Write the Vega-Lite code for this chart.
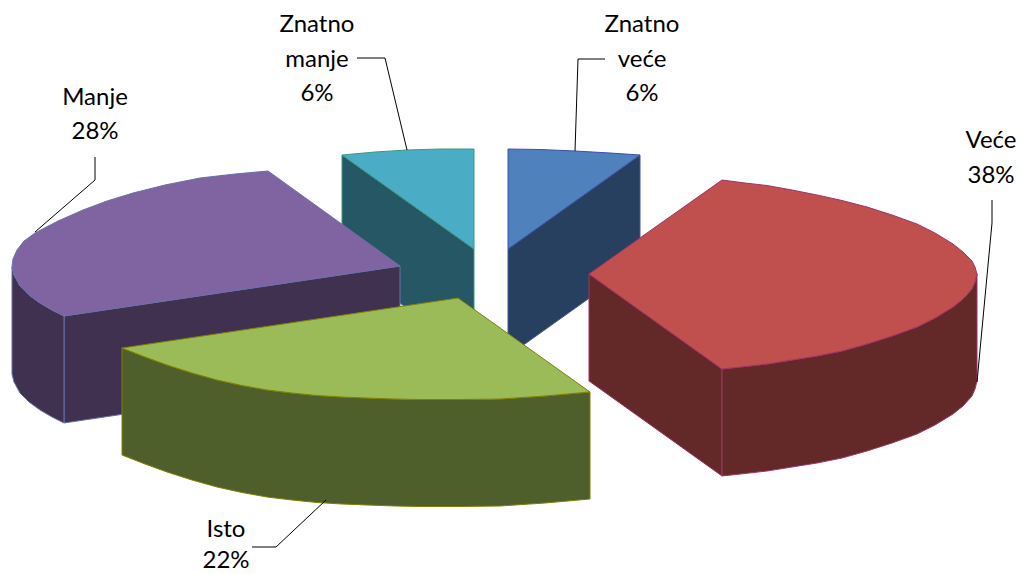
{"$schema":"https://vega.github.io/schema/vega-lite/v6.json","width":1021,"height":574,"padding":0,"autosize":"none","background":"white","config":{"view":{"stroke":null}},"datasets":{"faces":[
{"s":"a1","i":0,"x":508,"y":249},{"s":"a1","i":1,"x":640,"y":155},{"s":"a1","i":2,"x":640,"y":262},{"s":"a1","i":3,"x":508,"y":356},
{"s":"a2","i":0,"x":508,"y":249},{"s":"a2","i":1,"x":508,"y":149},{"s":"a2","i":2,"x":540,"y":149.5},{"s":"a2","i":3,"x":575,"y":151},{"s":"a2","i":4,"x":610,"y":153},{"s":"a2","i":5,"x":640,"y":155},
{"s":"b1","i":0,"x":342,"y":155},{"s":"b1","i":1,"x":474,"y":249},{"s":"b1","i":2,"x":474,"y":356},{"s":"b1","i":3,"x":342,"y":262},
{"s":"b2","i":0,"x":474,"y":249},{"s":"b2","i":1,"x":342,"y":155},{"s":"b2","i":2,"x":375,"y":152},{"s":"b2","i":3,"x":407,"y":150},{"s":"b2","i":4,"x":440,"y":149},{"s":"b2","i":5,"x":474,"y":149},
{"s":"c0","i":0,"x":64,"y":316},{"s":"c0","i":1,"x":400,"y":266},{"s":"c0","i":2,"x":400,"y":373},{"s":"c0","i":3,"x":64,"y":423},
{"s":"c1","i":0,"x":12,"y":267},{"s":"c1","i":1,"x":14,"y":275},{"s":"c1","i":2,"x":20,"y":286},{"s":"c1","i":3,"x":29,"y":295},{"s":"c1","i":4,"x":40,"y":303},{"s":"c1","i":5,"x":52,"y":310},{"s":"c1","i":6,"x":64,"y":316},{"s":"c1","i":9,"x":64,"y":423},{"s":"c1","i":10,"x":52,"y":417},{"s":"c1","i":11,"x":40,"y":410},{"s":"c1","i":12,"x":29,"y":402},{"s":"c1","i":13,"x":20,"y":393},{"s":"c1","i":14,"x":14,"y":382},{"s":"c1","i":15,"x":12,"y":374},
{"s":"c2","i":0,"x":400,"y":266},{"s":"c2","i":1,"x":268,"y":171},{"s":"c2","i":2,"x":235,"y":174},{"s":"c2","i":3,"x":200,"y":178},{"s":"c2","i":4,"x":165,"y":185},{"s":"c2","i":5,"x":133,"y":193},{"s":"c2","i":6,"x":107,"y":201},{"s":"c2","i":7,"x":83,"y":210},{"s":"c2","i":8,"x":58,"y":221},{"s":"c2","i":9,"x":35,"y":233},{"s":"c2","i":10,"x":24,"y":241},{"s":"c2","i":11,"x":17,"y":250},{"s":"c2","i":12,"x":13,"y":259},{"s":"c2","i":13,"x":12,"y":267},{"s":"c2","i":14,"x":14,"y":275},{"s":"c2","i":15,"x":20,"y":286},{"s":"c2","i":16,"x":29,"y":295},{"s":"c2","i":17,"x":40,"y":303},{"s":"c2","i":18,"x":52,"y":310},{"s":"c2","i":19,"x":64,"y":316},
{"s":"d0","i":0,"x":589,"y":274},{"s":"d0","i":1,"x":722,"y":369},{"s":"d0","i":2,"x":722,"y":476},{"s":"d0","i":3,"x":589,"y":381},
{"s":"d1","i":1,"x":722,"y":369},{"s":"d1","i":2,"x":745,"y":366.5},{"s":"d1","i":3,"x":767,"y":364},{"s":"d1","i":4,"x":792,"y":360},{"s":"d1","i":5,"x":817,"y":356},{"s":"d1","i":6,"x":842,"y":351},{"s":"d1","i":7,"x":867,"y":344},{"s":"d1","i":8,"x":892,"y":336},{"s":"d1","i":9,"x":917,"y":327},{"s":"d1","i":10,"x":935,"y":318},{"s":"d1","i":11,"x":953,"y":307},{"s":"d1","i":12,"x":963,"y":299},{"s":"d1","i":13,"x":972,"y":289},{"s":"d1","i":14,"x":975,"y":282},{"s":"d1","i":15,"x":977,"y":274},{"s":"d1","i":16,"x":977,"y":381},{"s":"d1","i":17,"x":975,"y":389},{"s":"d1","i":18,"x":972,"y":396},{"s":"d1","i":19,"x":963,"y":406},{"s":"d1","i":20,"x":953,"y":414},{"s":"d1","i":21,"x":935,"y":425},{"s":"d1","i":22,"x":917,"y":434},{"s":"d1","i":23,"x":892,"y":443},{"s":"d1","i":24,"x":867,"y":451},{"s":"d1","i":25,"x":842,"y":458},{"s":"d1","i":26,"x":817,"y":463},{"s":"d1","i":27,"x":792,"y":467},{"s":"d1","i":28,"x":767,"y":471},{"s":"d1","i":29,"x":745,"y":473.5},{"s":"d1","i":30,"x":722,"y":476},
{"s":"d2","i":0,"x":589,"y":274},{"s":"d2","i":1,"x":722,"y":180},{"s":"d2","i":2,"x":745,"y":183},{"s":"d2","i":3,"x":767,"y":185.5},{"s":"d2","i":4,"x":792,"y":190},{"s":"d2","i":5,"x":817,"y":195},{"s":"d2","i":6,"x":842,"y":200.5},{"s":"d2","i":7,"x":867,"y":207},{"s":"d2","i":8,"x":892,"y":215},{"s":"d2","i":9,"x":917,"y":224},{"s":"d2","i":10,"x":935,"y":233},{"s":"d2","i":11,"x":953,"y":244},{"s":"d2","i":12,"x":963,"y":252},{"s":"d2","i":13,"x":972,"y":261},{"s":"d2","i":14,"x":975,"y":267},{"s":"d2","i":15,"x":977,"y":274},{"s":"d2","i":16,"x":975,"y":282},{"s":"d2","i":17,"x":972,"y":289},{"s":"d2","i":18,"x":963,"y":299},{"s":"d2","i":19,"x":953,"y":307},{"s":"d2","i":20,"x":935,"y":318},{"s":"d2","i":21,"x":917,"y":327},{"s":"d2","i":22,"x":892,"y":336},{"s":"d2","i":23,"x":867,"y":344},{"s":"d2","i":24,"x":842,"y":351},{"s":"d2","i":25,"x":817,"y":356},{"s":"d2","i":26,"x":792,"y":360},{"s":"d2","i":27,"x":767,"y":364},{"s":"d2","i":28,"x":745,"y":366.5},{"s":"d2","i":29,"x":722,"y":369},
{"s":"e1","i":0,"x":122,"y":348},{"s":"e1","i":1,"x":145,"y":357},{"s":"e1","i":2,"x":167,"y":365},{"s":"e1","i":3,"x":192,"y":373},{"s":"e1","i":4,"x":217,"y":380},{"s":"e1","i":5,"x":242,"y":385.5},{"s":"e1","i":6,"x":267,"y":390},{"s":"e1","i":7,"x":292,"y":393},{"s":"e1","i":8,"x":317,"y":395.5},{"s":"e1","i":9,"x":342,"y":397},{"s":"e1","i":10,"x":367,"y":398},{"s":"e1","i":11,"x":395,"y":399},{"s":"e1","i":12,"x":420,"y":399.5},{"s":"e1","i":13,"x":460,"y":399.5},{"s":"e1","i":14,"x":500,"y":399},{"s":"e1","i":15,"x":545,"y":396},{"s":"e1","i":16,"x":590,"y":392},{"s":"e1","i":17,"x":590,"y":499},{"s":"e1","i":18,"x":545,"y":503},{"s":"e1","i":19,"x":500,"y":506},{"s":"e1","i":20,"x":460,"y":506.5},{"s":"e1","i":21,"x":420,"y":506.5},{"s":"e1","i":22,"x":395,"y":506},{"s":"e1","i":23,"x":367,"y":505},{"s":"e1","i":24,"x":342,"y":504},{"s":"e1","i":25,"x":317,"y":502.5},{"s":"e1","i":26,"x":292,"y":500},{"s":"e1","i":27,"x":267,"y":497},{"s":"e1","i":28,"x":242,"y":492.5},{"s":"e1","i":29,"x":217,"y":487},{"s":"e1","i":30,"x":192,"y":480},{"s":"e1","i":31,"x":167,"y":472},{"s":"e1","i":32,"x":145,"y":464},{"s":"e1","i":33,"x":122,"y":455},
{"s":"e2","i":0,"x":458,"y":298},{"s":"e2","i":1,"x":122,"y":348},{"s":"e2","i":2,"x":145,"y":357},{"s":"e2","i":3,"x":167,"y":365},{"s":"e2","i":4,"x":192,"y":373},{"s":"e2","i":5,"x":217,"y":380},{"s":"e2","i":6,"x":242,"y":385.5},{"s":"e2","i":7,"x":267,"y":390},{"s":"e2","i":8,"x":292,"y":393},{"s":"e2","i":9,"x":317,"y":395.5},{"s":"e2","i":10,"x":342,"y":397},{"s":"e2","i":11,"x":367,"y":398},{"s":"e2","i":12,"x":395,"y":399},{"s":"e2","i":13,"x":420,"y":399.5},{"s":"e2","i":14,"x":460,"y":399.5},{"s":"e2","i":15,"x":500,"y":399},{"s":"e2","i":16,"x":545,"y":396},{"s":"e2","i":17,"x":590,"y":392}
],"leaders":[
{"k":"Manje","i":0,"x":95,"y":157},{"k":"Manje","i":1,"x":95,"y":180},{"k":"Manje","i":2,"x":35,"y":232},
{"k":"Znatno manje","i":0,"x":357,"y":58},{"k":"Znatno manje","i":1,"x":385,"y":58},{"k":"Znatno manje","i":2,"x":407,"y":150},
{"k":"Znatno veće","i":0,"x":605,"y":59},{"k":"Znatno veće","i":1,"x":578,"y":59},{"k":"Znatno veće","i":2,"x":575,"y":151},
{"k":"Veće","i":0,"x":992,"y":200},{"k":"Veće","i":1,"x":992,"y":223},{"k":"Veće","i":2,"x":977,"y":382},
{"k":"Isto","i":0,"x":252,"y":547},{"k":"Isto","i":1,"x":276,"y":547},{"k":"Isto","i":2,"x":326,"y":500}
],"labels":[
{"t":"Znatno","x":317,"y":25},{"t":"manje","x":317,"y":60},{"t":"6%","x":317,"y":94},
{"t":"Znatno","x":642,"y":25},{"t":"veće","x":642,"y":60},{"t":"6%","x":642,"y":94},
{"t":"Manje","x":95,"y":98},{"t":"28%","x":95,"y":132},
{"t":"Veće","x":991,"y":141},{"t":"38%","x":991,"y":176},
{"t":"Isto","x":226,"y":530},{"t":"22%","x":226,"y":561}
]},
"layer":[
{"data":{"name":"faces"},"mark":{"type":"line","interpolate":"linear-closed","strokeWidth":1},
"encoding":{"x":{"field":"x","type":"quantitative","scale":{"domain":[0,1021],"nice":false,"zero":false},"axis":null},"y":{"field":"y","type":"quantitative","scale":{"domain":[574,0],"nice":false,"zero":false},"axis":null},"order":{"field":"i"},"detail":{"field":"s"},
"fill":{"field":"s","type":"nominal","legend":null,"scale":{"domain":["a1","a2","b1","b2","c0","c1","c2","d0","d1","d2","e1","e2"],"range":["#28405F","#4F81BD","#265765","#4BACC6","#403151","#403151","#8064A2","#622928","#622928","#C0504D","#4F5F2C","#9BBB59"]}},
"stroke":{"field":"s","type":"nominal","legend":null,"scale":{"domain":["a1","a2","b1","b2","c0","c1","c2","d0","d1","d2","e1","e2"],"range":["#4A55A8","#3F4FA8","#3A9A80","#3A9A80","#6A70A8","#6A70A8","#6A70A8","#A03468","#A03468","#A03468","#808000","#808000"]}}}},
{"data":{"name":"leaders"},"mark":{"type":"line","color":"#000000","strokeWidth":1},"encoding":{"x":{"field":"x","type":"quantitative"},"y":{"field":"y","type":"quantitative"},"order":{"field":"i"},"detail":{"field":"k"}}},
{"data":{"name":"labels"},"mark":{"type":"text","font":"Lato","fontSize":24,"color":"#000000","align":"center","baseline":"middle"},"encoding":{"x":{"field":"x","type":"quantitative"},"y":{"field":"y","type":"quantitative"},"text":{"field":"t"}}}
]}
